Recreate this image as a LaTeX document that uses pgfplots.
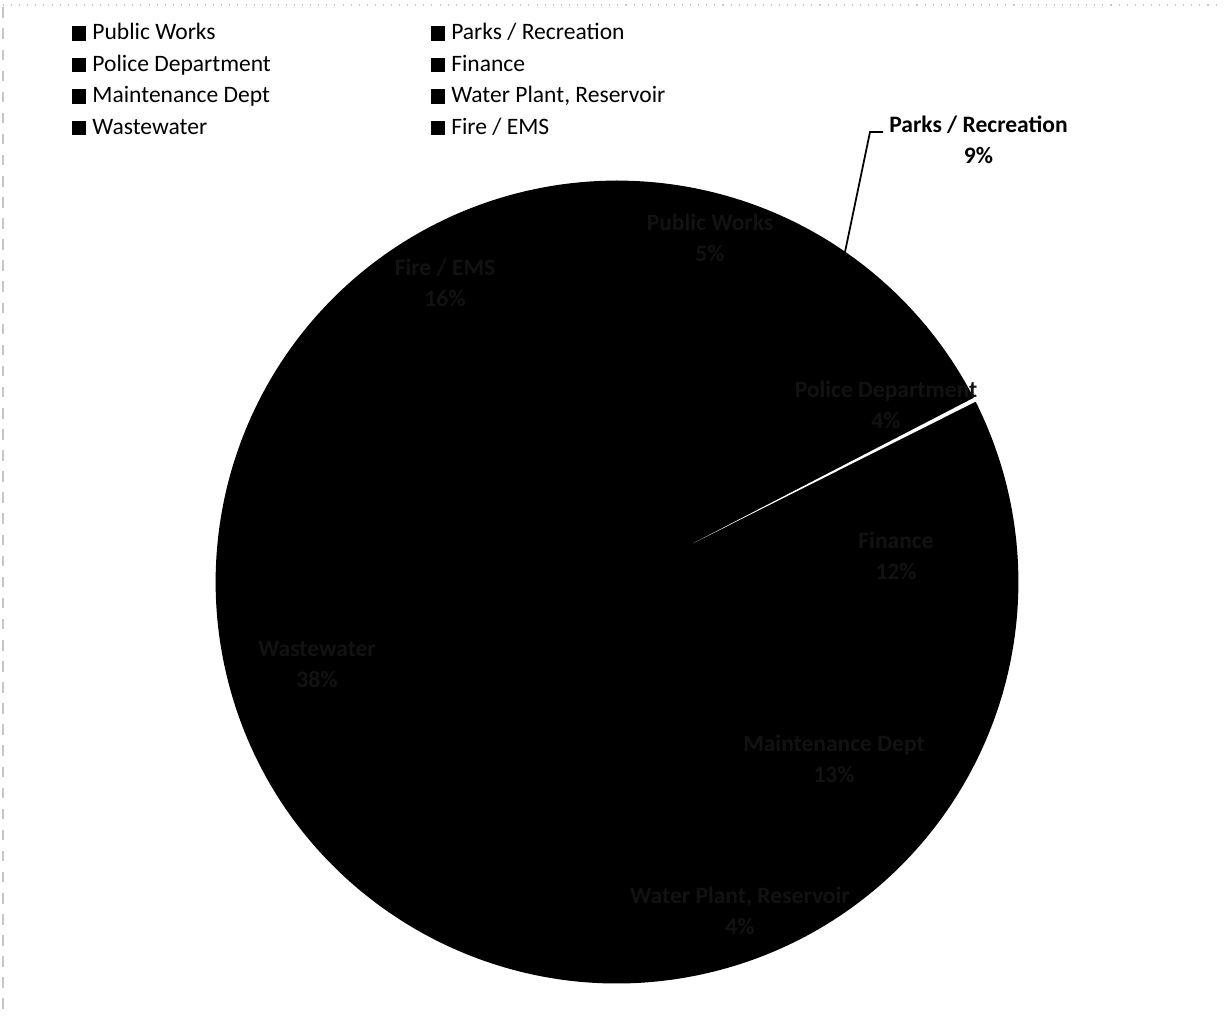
\documentclass[border=0pt]{standalone}
\usepackage{fontspec}
\setmainfont{Carlito}
\usepackage{pgfplots}
\usepackage{pgfplotstable}
\pgfplotsset{compat=1.18}

\pgfplotstableread{
name value
PublicWorks 5
Parks 9
Police 3.5
Finance 12
Maintenance 12.7
WaterPlant 4
Wastewater 38
FireEMS 15.8
}\piedata

\begin{document}
\begin{tikzpicture}
\begin{axis}[
  x=1cm, y=1cm, xmin=0, xmax=12.25, ymin=0, ymax=10.09,
  hide axis, clip=false,
  legend columns=2,
  legend cell align=left,
  legend style={at={(axis cs:0.72,9.87)}, anchor=north west, draw=none, fill=none,
    inner sep=0pt, outer sep=0pt, row sep=0.85mm,
    font=\fontsize{6.7}{8}\selectfont,
    nodes={inner sep=0pt, text height=1.8mm, text depth=0.5mm},
    /tikz/every odd column/.append style={column sep=0.6mm},
    /tikz/every even column/.append style={column sep=16.0mm}},
  legend image code/.code={\fill[black] (0cm,-0.065cm) rectangle (0.13cm,0.065cm);},
]
% pie slices (clockwise from 12 o'clock)
\def\cum{0}
\pgfplotsforeachungrouped \i in {0,...,7}{%
  \pgfplotstablegetelem{\i}{value}\of\piedata
  \let\sliceval\pgfplotsretval
  \pgfmathsetmacro\sa{90-3.6*\cum}%
  \pgfmathsetmacro\ea{90-3.6*(\cum+\sliceval)}%
  \edef\temp{\noexpand\filldraw[black, line width=0.8pt, line join=round] (axis cs:6.17,4.27) -- ++(\sa:4cm) arc[start angle=\sa, end angle=\ea, radius=4cm] -- cycle;}%
  \temp
  \pgfmathsetmacro\cum{\cum+\sliceval}%
  \ifnum\i=2 \let\sepcum\cum\fi
}
% white gap between Police Department and Finance
\pgfmathsetmacro\sepang{90-3.6*\sepcum}
\pgfmathsetmacro\sepa{\sepang-0.3}
\pgfmathsetmacro\sepb{\sepang+0.3}
\edef\temp{\noexpand\fill[white, shift={(axis cs:6.17,4.27)}] (\sepang:0.85cm) -- (\sepa:4.05cm) -- (\sepb:4.05cm) -- cycle;}
\temp

% leader line for Parks / Recreation
\draw[black, line width=0.5pt] (axis cs:8.45,7.57) -- (axis cs:8.70,8.77) -- (axis cs:8.83,8.77);
\node[font=\bfseries\fontsize{6.7}{8.8}\selectfont, align=center] at (axis cs:9.785,8.695) {Parks / Recreation\\9\%};

% labels inside the black pie (barely visible, as in the scan)
\tikzset{inlab/.style={font=\bfseries\fontsize{6.7}{8.8}\selectfont, align=center, text=black!93}}
\node[inlab] at (axis cs:8.86,6.04) {Police Department\\4\%};
\node[inlab] at (axis cs:7.10,7.71) {Public Works\\5\%};
\node[inlab] at (axis cs:4.45,7.26) {Fire / EMS\\16\%};
\node[inlab] at (axis cs:3.17,3.45) {Wastewater\\38\%};
\node[inlab] at (axis cs:7.40,0.98) {Water Plant, Reservoir\\4\%};
\node[inlab] at (axis cs:8.96,4.53) {Finance\\12\%};
\node[inlab] at (axis cs:8.34,2.50) {Maintenance Dept\\13\%};

% faint scan borders
\draw[gray!45, line width=0.3pt, dotted] (axis cs:0.03,10.04) -- (axis cs:12.2,10.04);
\draw[gray!45, line width=0.3pt, dashed] (axis cs:0.03,0) -- (axis cs:0.03,10.04);

\addlegendimage{black}\addlegendentry{Public Works}
\addlegendimage{black}\addlegendentry{Parks / Recreation}
\addlegendimage{black}\addlegendentry{Police Department}
\addlegendimage{black}\addlegendentry{Finance}
\addlegendimage{black}\addlegendentry{Maintenance Dept}
\addlegendimage{black}\addlegendentry{{Water Plant, Reservoir}}
\addlegendimage{black}\addlegendentry{Wastewater}
\addlegendimage{black}\addlegendentry{Fire / EMS}

\path (axis cs:0,0) rectangle (axis cs:12.25,10.09);
\end{axis}
\end{tikzpicture}
\end{document}
